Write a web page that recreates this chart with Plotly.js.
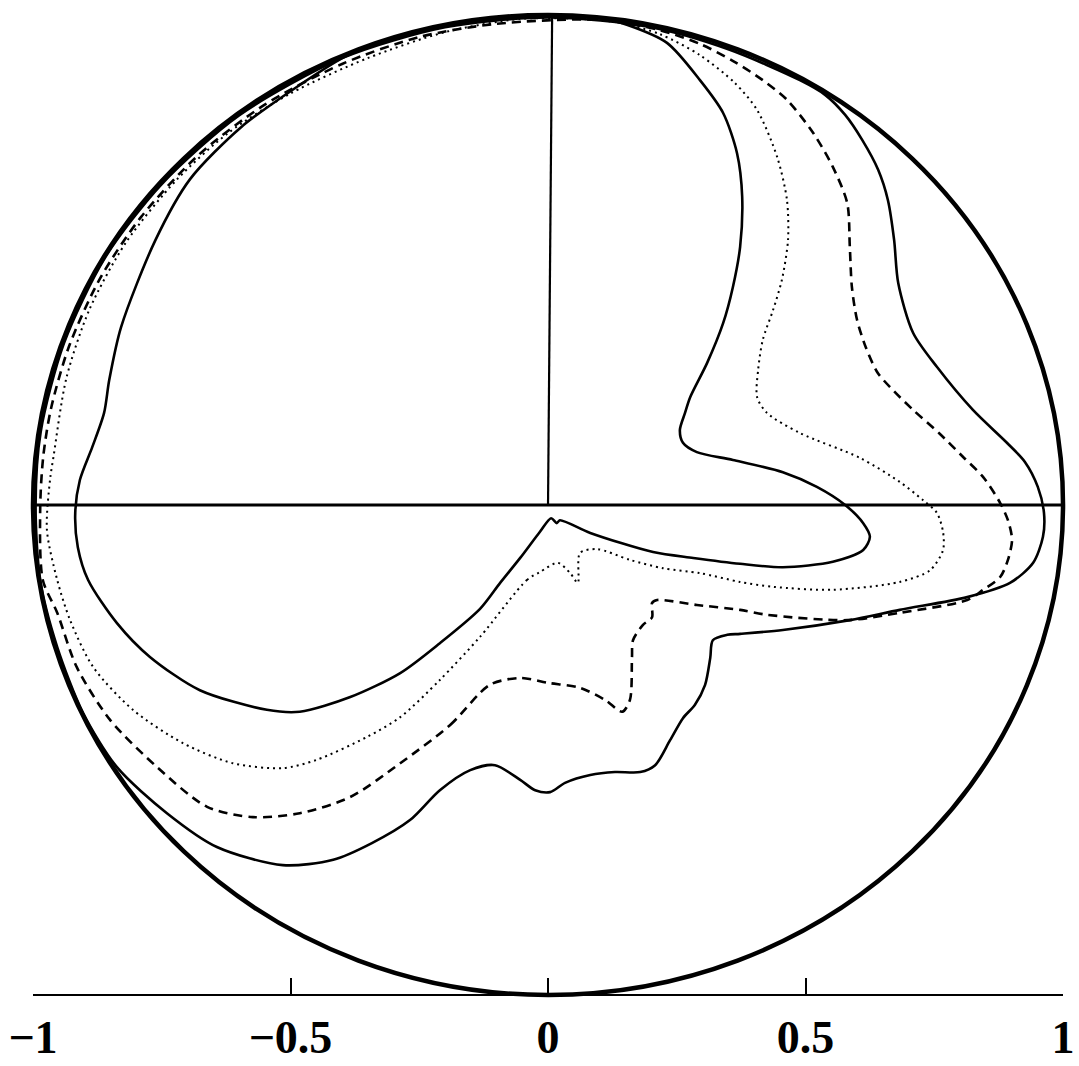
<!DOCTYPE html>
<html>
<head>
<meta charset="utf-8">
<script src="https://cdn.plot.ly/plotly-3.0.1.min.js"></script>
<style>
  html, body { margin: 0; padding: 0; background: #fff; }
  #chart { width: 1079px; height: 1066px; }
</style>
</head>
<body>
<div id="chart"></div>
<script>
// Four closed loci inside the unit disc (x = Re, y = Im).

// Innermost loop (solid)
const innerX = [0.006, 0.017, 0.023, 0.082, 0.204, 0.282, 0.373, 0.456, 0.553, 0.612, 0.625, 0.612, 0.577, 0.522, 0.456, 0.359, 0.289, 0.262, 0.256, 0.266, 0.276, 0.309, 0.340, 0.359, 0.373, 0.377, 0.367, 0.340, 0.295, 0.231, 0.153, 0.101, 0.010, -0.093, -0.210, -0.328, -0.394, -0.495, -0.596, -0.695, -0.763, -0.829, -0.852, -0.862, -0.885, -0.909, -0.918, -0.913, -0.893, -0.837, -0.773, -0.676, -0.546, -0.482, -0.384, -0.287, -0.210, -0.132, -0.093, -0.054, -0.016, 0.006];
const innerY = [-0.027, -0.037, -0.031, -0.057, -0.096, -0.108, -0.120, -0.127, -0.116, -0.092, -0.065, -0.037, 0.000, 0.037, 0.067, 0.092, 0.108, 0.127, 0.153, 0.188, 0.220, 0.290, 0.371, 0.445, 0.527, 0.629, 0.718, 0.800, 0.867, 0.943, 0.980, 0.994, 0.998, 0.994, 0.976, 0.943, 0.915, 0.848, 0.771, 0.665, 0.539, 0.363, 0.255, 0.188, 0.118, 0.051, -0.016, -0.086, -0.153, -0.241, -0.310, -0.378, -0.418, -0.422, -0.392, -0.343, -0.282, -0.212, -0.159, -0.108, -0.055, -0.027];

// Second loop (dotted)
const dotX = [-0.132, -0.041, -0.016, 0.019, 0.043, 0.058, 0.062, 0.095, 0.159, 0.223, 0.295, 0.373, 0.437, 0.553, 0.683, 0.742, 0.767, 0.767, 0.755, 0.728, 0.683, 0.606, 0.489, 0.425, 0.406, 0.408, 0.417, 0.437, 0.454, 0.466, 0.464, 0.445, 0.406, 0.363, 0.295, 0.217, 0.140, 0.062, -0.054, -0.200, -0.350, -0.500, -0.620, -0.720, -0.820, -0.890, -0.935, -0.960, -0.967, -0.973, -0.953, -0.928, -0.883, -0.806, -0.709, -0.612, -0.515, -0.449, -0.351, -0.287, -0.210, -0.132];
const dotY = [-0.269, -0.153, -0.137, -0.118, -0.139, -0.159, -0.098, -0.090, -0.112, -0.129, -0.139, -0.157, -0.167, -0.173, -0.157, -0.133, -0.092, -0.055, -0.016, 0.010, 0.047, 0.096, 0.147, 0.188, 0.220, 0.276, 0.337, 0.398, 0.459, 0.541, 0.622, 0.710, 0.806, 0.861, 0.918, 0.961, 0.984, 0.992, 0.992, 0.965, 0.912, 0.840, 0.760, 0.665, 0.535, 0.400, 0.260, 0.100, 0.051, -0.051, -0.153, -0.235, -0.331, -0.418, -0.486, -0.527, -0.537, -0.520, -0.473, -0.433, -0.357, -0.269];

// Third loop (dashed)
const dashX = [-0.287, -0.190, -0.113, -0.054, 0.000, 0.062, 0.111, 0.144, 0.159, 0.163, 0.165, 0.184, 0.202, 0.202, 0.212, 0.289, 0.373, 0.425, 0.581, 0.683, 0.814, 0.845, 0.878, 0.893, 0.901, 0.893, 0.878, 0.845, 0.806, 0.760, 0.709, 0.672, 0.640, 0.617, 0.600, 0.590, 0.586, 0.581, 0.553, 0.515, 0.464, 0.417, 0.363, 0.295, 0.217, 0.101, -0.100, -0.250, -0.400, -0.550, -0.680, -0.790, -0.870, -0.930, -0.965, -0.980, -0.986, -0.981, -0.953, -0.915, -0.850, -0.759, -0.662, -0.573, -0.482, -0.384, -0.287];
const dashY = [-0.527, -0.449, -0.367, -0.353, -0.363, -0.373, -0.398, -0.422, -0.398, -0.312, -0.276, -0.245, -0.229, -0.200, -0.194, -0.204, -0.214, -0.224, -0.235, -0.220, -0.194, -0.173, -0.147, -0.112, -0.071, -0.031, 0.004, 0.057, 0.098, 0.146, 0.194, 0.232, 0.270, 0.322, 0.378, 0.445, 0.527, 0.616, 0.690, 0.759, 0.827, 0.867, 0.904, 0.941, 0.969, 0.990, 0.982, 0.955, 0.900, 0.817, 0.713, 0.588, 0.462, 0.324, 0.197, 0.100, -0.004, -0.153, -0.220, -0.331, -0.439, -0.535, -0.616, -0.637, -0.629, -0.596, -0.527];

// Outermost loop (solid)
const outerX = [-0.268, -0.210, -0.151, -0.103, -0.054, -0.025, 0.004, 0.033, 0.082, 0.130, 0.179, 0.208, 0.237, 0.262, 0.285, 0.305, 0.315, 0.320, 0.348, 0.373, 0.456, 0.586, 0.683, 0.814, 0.897, 0.942, 0.961, 0.963, 0.951, 0.926, 0.891, 0.825, 0.755, 0.709, 0.680, 0.672, 0.660, 0.641, 0.610, 0.577, 0.538, 0.489, 0.350, 0.200, 0.000, -0.200, -0.400, -0.600, -0.750, -0.860, -0.940, -0.985, -0.995, -0.986, -0.953, -0.903, -0.837, -0.740, -0.643, -0.515, -0.417, -0.342, -0.268];
const outerY = [-0.643, -0.582, -0.541, -0.531, -0.561, -0.582, -0.586, -0.567, -0.551, -0.545, -0.545, -0.531, -0.480, -0.435, -0.408, -0.367, -0.312, -0.276, -0.265, -0.263, -0.255, -0.235, -0.214, -0.188, -0.159, -0.118, -0.065, -0.016, 0.037, 0.088, 0.127, 0.194, 0.282, 0.351, 0.453, 0.541, 0.622, 0.684, 0.745, 0.796, 0.837, 0.867, 0.930, 0.975, 0.995, 0.975, 0.912, 0.795, 0.655, 0.505, 0.330, 0.150, 0.000, -0.153, -0.290, -0.424, -0.535, -0.629, -0.698, -0.735, -0.724, -0.690, -0.643];

// Bottom scale
const tickVals = [-1, -0.5, 0, 0.5, 1];
const tickText = ['\u22121', '\u22120.5', '0', '0.5', '1'];

const ink = '#000';

function loop(xs, ys, width, dash) {
  return {
    x: xs, y: ys, type: 'scatter', mode: 'lines',
    line: { color: ink, width: width, dash: dash, shape: 'spline', smoothing: 0.8 },
    hoverinfo: 'skip', showlegend: false
  };
}

const data = [
  loop(innerX, innerY, 2.6, 'solid'),
  loop(dotX, dotY, 2, '2px,4px'),
  loop(dashX, dashY, 2.6, '9px,6px'),
  loop(outerX, outerY, 2.6, 'solid'),
  // carrier for the bottom scale
  { x: [tickVals[0], tickVals[tickVals.length - 1]], y: [null, null], xaxis: 'x2', yaxis: 'y',
    type: 'scatter', mode: 'lines', hoverinfo: 'skip', showlegend: false }
];

const W = 1079, H = 1066;

const layout = {
  width: W, height: H,
  margin: { l: 0, r: 0, t: 0, b: 0 },
  paper_bgcolor: '#fff', plot_bgcolor: 'rgba(0,0,0,0)',
  showlegend: false,
  xaxis: { domain: [0, 1], range: [-1.0641, 1.0310], visible: false, fixedrange: true },
  yaxis: { domain: [0, 1], range: [-1.1449, 1.0306], visible: false, fixedrange: true },
  xaxis2: {
    domain: [33 / W, 1063 / W], range: [-1, 1],
    anchor: 'free', position: 71 / H,
    showline: true, linewidth: 2, linecolor: ink,
    ticks: 'inside', ticklen: 16, tickwidth: 2, tickcolor: ink,
    tickmode: 'array', tickvals: tickVals, ticktext: tickText,
    tickfont: { family: 'Liberation Serif, DejaVu Serif, serif', size: 46, color: ink, weight: 'bold' },
    ticklabelstandoff: 2,
    showgrid: false, zeroline: false, fixedrange: true
  },
  shapes: [
    { type: 'circle', xref: 'x', yref: 'y', x0: -1, x1: 1, y0: -1, y1: 1,
      line: { color: ink, width: 4.5 } },
    { type: 'line', xref: 'x', yref: 'y', x0: -1, x1: 1, y0: 0, y1: 0,
      line: { color: ink, width: 3 } },
    { type: 'line', xref: 'x', yref: 'y', x0: 0, x1: 0.008, y0: 0, y1: 1,
      line: { color: ink, width: 2.2 } }
  ]
};

Plotly.newPlot('chart', data, layout, { staticPlot: true, displayModeBar: false });
</script>
</body>
</html>
